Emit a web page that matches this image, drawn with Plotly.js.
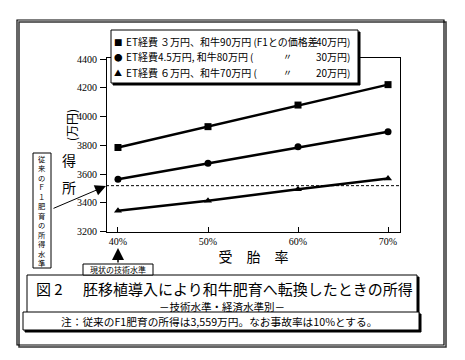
<!DOCTYPE html>
<html>
<head>
<meta charset="utf-8">
<script src="https://cdn.plot.ly/plotly-3.0.1.min.js"></script>
<style>html,body{margin:0;padding:0;background:#fff;}#chart{width:465px;height:360px;}</style>
</head>
<body>
<div id="chart"></div>
<script>
// ---- data ----
const rates = [40, 50, 60, 70];
const rateLabels = ['40%', '50%', '60%', '70%'];
const seriesLeft = ['ET経費 ３万円、和牛90万円 (F1との価格差', 'ET経費4.5万円, 和牛80万円 (', 'ET経費 ６万円、和牛70万円 ('];
const seriesDitto = ['', '〃', '〃'];
const seriesRight = ['40万円)', '30万円)', '20万円)'];
const seriesGlyphs = ['■', '●', '▲'];
const income90 = [3785, 3930, 4080, 4222];
const income80 = [3565, 3675, 3790, 3895];
const income70 = [3345, 3415, 3495, 3570];
const f1Level = 3520;
const yTicks = [3200, 3400, 3600, 3800, 4000, 4200, 4400];

// ---- layout helpers (pixel -> paper) ----
const WID = 465, HEI = 360, L = 107, R = 65, T = 58, B = 128;
const PW = WID - L - R, PH = HEI - T - B;
const px = v => (v - L) / PW;
const py = v => (HEI - B - v) / PH;
const JP = 'Noto Sans CJK JP';
const SERIF = 'Liberation Serif';

const symbols = ['square', 'circle', 'triangle-up'];
const allSeries = [income90, income80, income70];
const traces = allSeries.map((ys, i) => ({
  x: rates, y: ys, type: 'scatter', mode: 'lines+markers',
  name: seriesLeft[i] + seriesRight[i],
  line: {color: '#000', width: 2.5},
  marker: {symbol: symbols[i], color: '#000', size: 7}
}));

const shapes = [];
function rect(x0, y0, x1, y1, opts) {
  shapes.push(Object.assign({type: 'rect', xref: 'paper', yref: 'paper',
    x0: px(x0), x1: px(x1), y0: py(y1), y1: py(y0),
    line: {color: '#000', width: 1}, layer: 'above'}, opts || {}));
}
// outer frame (with heavier right/bottom edge)
rect(19, 22, 446, 347, {fillcolor: 'rgba(0,0,0,0)', line: {color: '#333', width: 1.5}});
rect(17, 20, 444, 345, {line: {color: '#000', width: 1.2}});
// f1 baseline
shapes.push({type: 'line', xref: 'paper', yref: 'y', x0: px(106), x1: 1, y0: f1Level, y1: f1Level,
  line: {color: '#000', width: 1, dash: '3px,2px'}, layer: 'above'});
// legend box with shadow
rect(113, 32, 360, 85, {fillcolor: '#000'});
rect(111, 30, 358, 83, {fillcolor: '#fff'});
// vertical label box
rect(33, 153, 51, 268, {fillcolor: '#fff'});
// title box with shadow
rect(29, 277, 419, 315, {fillcolor: '#000'});
rect(27, 275, 417, 313, {fillcolor: '#fff'});
// note box with shadow
rect(25, 314, 421, 332, {fillcolor: '#000'});
rect(23, 312, 419, 330, {fillcolor: '#fff'});
// current level box
rect(83, 264, 153, 275, {fillcolor: '#fff'});

const ann = [];
function txt(x, y, text, size, extra) {
  ann.push(Object.assign({xref: 'paper', yref: 'paper', x: px(x), y: py(y), text: text,
    showarrow: false, xanchor: 'center', yanchor: 'middle', borderpad: 0,
    font: {family: JP, size: size, color: '#000'}}, extra || {}));
}
// legend (drawn as text inside the box)
const legendRows = [41.5, 57, 72.5];
legendRows.forEach((yy, i) => {
  txt(118, yy, seriesGlyphs[i], i === 2 ? 8 : 8.5);
  txt(125, yy, seriesLeft[i], 10, {xanchor: 'left'});
  if (seriesDitto[i]) txt(287, yy, seriesDitto[i], 9);
  txt(351, yy, seriesRight[i], 10, {xanchor: 'right'});
});
// y axis title (所 得 upright, (万円) rotated)
txt(69, 187, '所', 14);
txt(69, 160, '得', 14);
txt(71, 125, '(万円)', 12, {textangle: -90});
// vertical label
txt(42, 210.5, ['従','来','の','Ｆ','１','肥','育','の','所','得','水','準'].join('<br>'), 7.3);
// arrow from label to baseline
ann.push({xref: 'paper', yref: 'paper', x: px(106), y: py(186), ax: -54, ay: 23,
  text: '', showarrow: true, arrowhead: 2, arrowsize: 2.2, arrowwidth: 1, arrowcolor: '#000'});
// up arrow at 40%
ann.push({xref: 'paper', yref: 'paper', x: px(118), y: py(248), ax: 0, ay: 16,
  text: '', showarrow: true, arrowhead: 2, arrowsize: 1.6, arrowwidth: 1.5, arrowcolor: '#000'});
txt(118, 269.5, '現状の技術水準', 8);
// title
txt(35, 288, '図 2', 15, {xanchor: 'left'});
txt(82, 288, '胚移植導入により和牛肥育へ転換したときの所得', 15, {xanchor: 'left'});
txt(222, 306.5, '－技術水準・経済水準別－', 10.5);
txt(219, 321.5, '注：従来のF1肥育の所得は3,559万円。なお事故率は10%とする。', 10.7);

const layout = {
  width: WID, height: HEI,
  margin: {l: L, r: R, t: T, b: B},
  paper_bgcolor: '#fff', plot_bgcolor: '#fff',
  showlegend: false,
  xaxis: {range: [38.78, 71.33], tickvals: rates, ticktext: rateLabels,
    showgrid: false, zeroline: false, showline: true, mirror: true, linecolor: '#000', linewidth: 1,
    ticks: 'inside', ticklen: 5, tickcolor: '#000',
    tickfont: {family: SERIF, size: 10, color: '#000'},
    title: {text: '受　胎　率', font: {family: JP, size: 14, color: '#000'}, standoff: 6}},
  yaxis: {range: [3198, 4407], tickvals: yTicks,
    showgrid: false, zeroline: false, showline: true, mirror: true, linecolor: '#000', linewidth: 1,
    ticks: 'outside', ticklen: 6, tickcolor: '#000', ticklabelstandoff: 1,
    tickfont: {family: SERIF, size: 10, color: '#000'}},
  shapes: shapes,
  annotations: ann
};
Plotly.newPlot('chart', traces, layout, {displayModeBar: false, staticPlot: true});
</script>
</body>
</html>
